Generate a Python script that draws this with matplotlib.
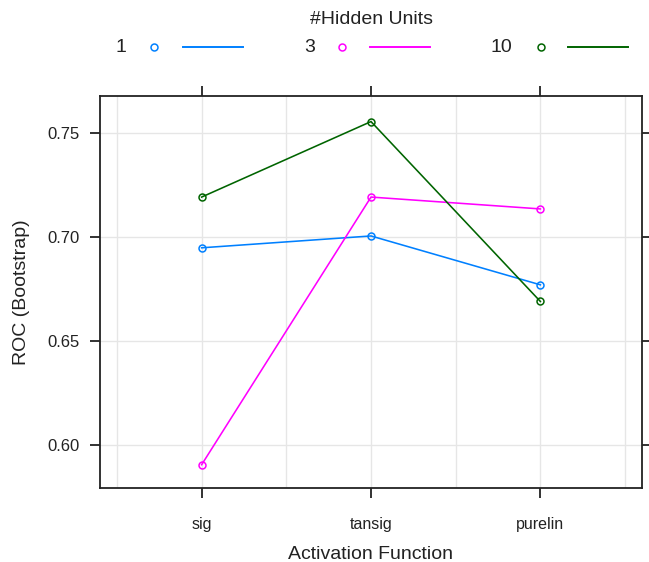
import matplotlib
matplotlib.use("Agg")
import matplotlib.pyplot as plt
from matplotlib.lines import Line2D

plt.rcParams['font.family'] = ['Liberation Sans', 'DejaVu Sans']

# data
activations = ["sig", "tansig", "purelin"]
hidden_units = ["1", "3", "10"]
roc_1 = [0.6948, 0.7005, 0.6770]
roc_3 = [0.5905, 0.7192, 0.7135]
roc_10 = [0.7192, 0.7555, 0.6690]
colors = ["#0080ff", "#ff00ff", "#006400"]

fig = plt.figure(figsize=(6.49, 5.62), dpi=100)
ax = fig.add_axes([100 / 649, 1 - 488 / 562, 542 / 649, 392 / 562])

x = range(1, len(activations) + 1)
for vals, col in zip([roc_1, roc_3, roc_10], colors):
    ax.plot(x, vals, color=col, lw=1.15, marker="o", ms=5,
            mfc="none", mec=col, mew=1.1, zorder=3)

ax.set_xlim(0.4, 3.6)
ax.set_ylim(0.5793, 0.7678)

# lattice-style grid
for gx in [0.5, 1, 1.5, 2, 2.5, 3, 3.5]:
    ax.axvline(gx, color="#e6e6e6", lw=1.0, zorder=0)
for gy in [0.60, 0.65, 0.70, 0.75]:
    ax.axhline(gy, color="#e6e6e6", lw=1.0, zorder=0)

ax.set_xticks(list(x))
ax.set_xticklabels(activations)
ax.set_yticks([0.60, 0.65, 0.70, 0.75])
ax.set_yticklabels(["0.60", "0.65", "0.70", "0.75"])
ax.tick_params(axis="both", direction="out", length=7, width=1.3,
               color="#222222", top=True, right=True, labelcolor="#222222")
ax.tick_params(axis="x", labelsize=11.5, pad=14)
ax.tick_params(axis="y", labelsize=12, pad=8)
for sp in ax.spines.values():
    sp.set_linewidth(1.3)
    sp.set_color("#222222")

ax.set_xlabel("Activation Function", fontsize=14, color="#222222", labelpad=10)
ax.set_ylabel("ROC (Bootstrap)", fontsize=14, color="#222222", labelpad=12)

# key on top, lattice style: text, point, line
fig.text(372 / 649, 1 - 20 / 562, "#Hidden Units", ha="center", va="center",
         fontsize=14, color="#222222")
key_y = 1 - 47 / 562
text_x = [121, 310, 501]
pt_x = [154, 342, 541]
ln_x = [(183, 243), (370, 430), (568, 628)]
for lab, col, tx, px, (l0, l1) in zip(hidden_units, colors, text_x, pt_x, ln_x):
    fig.text(tx / 649, key_y, lab, ha="center", va="center", fontsize=14,
             color="#222222")
    fig.add_artist(Line2D([px / 649], [key_y], marker="o", ms=5, mfc="none",
                          mec=col, mew=1.1, transform=fig.transFigure))
    fig.add_artist(Line2D([l0 / 649, l1 / 649], [key_y, key_y], color=col,
                          lw=1.4, transform=fig.transFigure))

fig.savefig("out.png", dpi=100)
